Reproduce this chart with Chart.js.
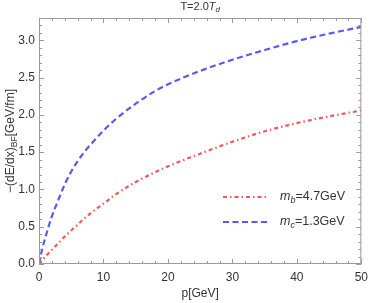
<!DOCTYPE html>
<html>
<head>
<meta charset="utf-8">
<script src="https://cdn.jsdelivr.net/npm/chart.js@4/dist/chart.umd.min.js"></script>
<style>
  html, body { margin: 0; padding: 0; background: #fff; }
  #wrap { width: 374px; height: 303px; }
</style>
</head>
<body>
<div id="wrap"><canvas id="grafico"></canvas></div>
<script>
// momentum p [GeV]
const momentos = [0, 0.5, 1, 2, 3, 4, 5, 6, 7, 8, 10, 12, 15, 18, 20, 25, 30, 35, 40, 45, 50];
// -(dE/dx)_BF for bottom quark, m_b = 4.7 GeV
const perdaBottom = [0, 0.05, 0.10, 0.19, 0.28, 0.37, 0.45, 0.53, 0.61, 0.68, 0.81, 0.94, 1.10, 1.23, 1.31, 1.48, 1.64, 1.78, 1.89, 1.98, 2.06];
// -(dE/dx)_BF for charm quark, m_c = 1.3 GeV
const perdaCharm = [0, 0.20, 0.36, 0.64, 0.86, 1.07, 1.24, 1.38, 1.50, 1.60, 1.79, 1.95, 2.15, 2.32, 2.41, 2.59, 2.74, 2.87, 2.99, 3.09, 3.18];

const ticksX = [0, 10, 20, 30, 40, 50];
const ticksY = [0, 0.5, 1.0, 1.5, 2.0, 2.5, 3.0];

const fonte = '"Liberation Sans", Arial, sans-serif';
const corTexto = '#333';
const corMoldura = '#9a9a9a';

function pontos(valores) {
    return momentos.map((p, i) => ({ x: p, y: valores[i] }));
}

// draws text pieces left to right, with italic and subscript pieces
function textoRico(ctx, partes, x, y, tamanho, alinhar) {
    const medir = (pt) => {
        const t = pt.sub ? tamanho * 0.72 : tamanho;
        ctx.font = (pt.italic ? 'italic ' : '') + t + 'px ' + fonte;
        return ctx.measureText(pt.t).width;
    };
    let total = 0;
    partes.forEach(pt => total += medir(pt));
    let cx = alinhar === 'center' ? x - total / 2 : x;
    ctx.textBaseline = 'middle';
    ctx.textAlign = 'left';
    partes.forEach(pt => {
        const w = medir(pt);
        ctx.fillText(pt.t, cx, pt.sub ? y + tamanho * 0.3 : y);
        cx += w;
    });
}

const molduraPlugin = {
    id: 'moldura',
    afterDraw(chart) {
        const ctx = chart.ctx;
        const a = chart.chartArea;
        const sx = chart.scales.x;
        const sy = chart.scales.y;
        ctx.save();
        ctx.strokeStyle = corMoldura;
        ctx.lineWidth = 1;
        ctx.strokeRect(a.left + 0.5, a.top + 0.5, a.right - a.left - 1, a.bottom - a.top - 1);

        ctx.beginPath();
        for (let v = 0; v <= 50; v += 2) {
            const px = Math.round(sx.getPixelForValue(v)) + 0.5;
            const len = v % 10 === 0 ? 5 : 3;
            ctx.moveTo(px, a.bottom); ctx.lineTo(px, a.bottom - len);
            ctx.moveTo(px, a.top); ctx.lineTo(px, a.top + len);
        }
        for (let i = 0; i <= 33; i++) {
            const v = i / 10;
            const py = Math.round(sy.getPixelForValue(v)) + 0.5;
            const len = i % 5 === 0 ? 5 : 3;
            ctx.moveTo(a.left, py); ctx.lineTo(a.left + len, py);
            ctx.moveTo(a.right, py); ctx.lineTo(a.right - len, py);
        }
        ctx.stroke();

        ctx.fillStyle = corTexto;
        // title
        textoRico(ctx, [
            { t: 'T=2.0' }, { t: 'T', italic: true }, { t: 'd', italic: true, sub: true }
        ], (a.left + a.right) / 2, 7, 11, 'center');
        // x axis title
        textoRico(ctx, [{ t: 'p[GeV]' }], (a.left + a.right) / 2, 294, 12, 'center');
        // y axis title
        ctx.save();
        ctx.translate(11, (a.top + a.bottom) / 2);
        ctx.rotate(-Math.PI / 2);
        textoRico(ctx, [
            { t: '\u2212(dE/dx)' }, { t: 'BF', sub: true }, { t: '[GeV/fm]' }
        ], 0, 0, 12, 'center');
        ctx.restore();

        // legend
        const itens = [
            { cor: 'rgba(240,80,80,0.95)', traco: [4, 3, 1.5, 3], y: 197, partes: [{ t: 'm', italic: true }, { t: 'b', italic: true, sub: true }, { t: '=4.7GeV' }] },
            { cor: 'rgba(80,80,245,0.95)', traco: [6, 3.5], y: 222, partes: [{ t: 'm', italic: true }, { t: 'c', italic: true, sub: true }, { t: '=1.3GeV' }] }
        ];
        itens.forEach(it => {
            ctx.save();
            ctx.strokeStyle = it.cor;
            ctx.lineWidth = 2.2;
            ctx.setLineDash(it.traco);
            ctx.beginPath();
            ctx.moveTo(223, it.y); ctx.lineTo(269, it.y);
            ctx.stroke();
            ctx.restore();
            ctx.fillStyle = corTexto;
            textoRico(ctx, it.partes, 280, it.y, 12.5, 'left');
        });
        ctx.restore();
    }
};

const grafico = new Chart(document.getElementById('grafico'), {
    type: 'line',
    data: {
        datasets: [{
            label: 'm_b=4.7GeV',
            data: pontos(perdaBottom),
            borderColor: 'rgba(240,80,80,0.95)',
            borderWidth: 2.2,
            borderDash: [4, 3, 1.5, 3],
            pointRadius: 0,
            cubicInterpolationMode: 'monotone',
            fill: false
        }, {
            label: 'm_c=1.3GeV',
            data: pontos(perdaCharm),
            borderColor: 'rgba(80,80,245,0.95)',
            borderWidth: 2.2,
            borderDash: [6, 3.5],
            pointRadius: 0,
            cubicInterpolationMode: 'monotone',
            fill: false
        }]
    },
    options: {
        responsive: true,
        maintainAspectRatio: false,
        animation: false,
        layout: { padding: { top: 18, right: 7, left: 0, bottom: 0 } },
        plugins: {
            legend: { display: false },
            tooltip: { enabled: false },
            title: { display: false }
        },
        scales: {
            x: {
                type: 'linear',
                min: 0,
                max: 50,
                grid: { display: false, drawTicks: false },
                border: { display: false },
                afterFit: s => { s.height = 39; },
                afterBuildTicks: s => { s.ticks = ticksX.map(v => ({ value: v })); },
                ticks: {
                    padding: 6,
                    color: corTexto,
                    font: { family: fonte, size: 12 },
                    maxRotation: 0
                }
            },
            y: {
                type: 'linear',
                min: 0,
                max: 3.3,
                grid: { display: false, drawTicks: false },
                border: { display: false },
                afterFit: s => { s.width = 39; },
                afterBuildTicks: s => { s.ticks = ticksY.map(v => ({ value: v })); },
                ticks: {
                    padding: 4,
                    color: corTexto,
                    font: { family: fonte, size: 12 },
                    callback: v => Number(v).toFixed(1)
                }
            }
        }
    },
    plugins: [molduraPlugin]
});
</script>
</body>
</html>
